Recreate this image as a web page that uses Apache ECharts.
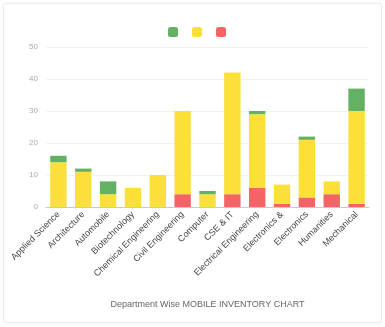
<!DOCTYPE html>
<html>
<head>
<meta charset="utf-8">
<script src="https://cdn.jsdelivr.net/npm/echarts@6/dist/echarts.min.js"></script>
<style>
    html, body { margin: 0; padding: 0; background: #fff; }
    #wrap {
        position: absolute; left: 3px; top: 3px; width: 377px; height: 318px;
        border: 1px solid #ececec; border-radius: 3px;
        box-shadow: 0 0 3px rgba(0,0,0,0.06);
    }
    #chart { position: absolute; left: 0; top: 0; width: 385px; height: 327px; }
</style>
</head>
<body>
<div id="wrap"></div>
<div id="chart"></div>
<script>
// departments on the x axis
const departments = ['Applied Science', 'Architecture', 'Automobile', 'Biotechnology', 'Chemical Engineering',
    'Civil Engineering', 'Computer', 'CSE & IT', 'Electrical Engineering', 'Electronics &',
    'Electronics', 'Humanities', 'Mechanical'];

// stacked values, bottom to top
const redValues = [0, 0, 0, 0, 0, 4, 0, 4, 6, 1, 3, 4, 1];
const yellowValues = [14, 11, 4, 6, 10, 26, 4, 38, 23, 6, 18, 4, 29];
const greenValues = [2, 1, 4, 0, 0, 0, 1, 0, 1, 0, 1, 0, 7];

const yTicks = [0, 10, 20, 30, 40, 50];
const axisTitle = 'Department Wise MOBILE INVENTORY CHART';

const chart = echarts.init(document.getElementById('chart'));

function stackSeries(name, data, color) {
    return {
        name: name,
        type: 'bar',
        stack: 'total',
        barWidth: '66%',
        data: data,
        itemStyle: { color: color }
    };
}

chart.setOption({
    animation: false,
    legend: {
        data: ['green', 'yellow', 'red'],
        top: 22,
        left: 163,
        itemWidth: 10,
        itemHeight: 10,
        itemGap: 14,
        formatter: () => '',
        icon: 'roundRect'
    },
    grid: { left: 46, right: 16, top: 47, bottom: 120 },
    xAxis: {
        type: 'category',
        data: departments,
        name: axisTitle,
        nameLocation: 'middle',
        nameGap: 93,
        nameTextStyle: { color: '#666', fontSize: 9 },
        axisTick: { show: false },
        axisLine: { lineStyle: { color: '#c8c8dc' } },
        axisLabel: { rotate: 45, interval: 0, fontSize: 9, color: '#444', margin: 6 }
    },
    yAxis: {
        type: 'value',
        min: yTicks[0],
        max: yTicks[yTicks.length - 1],
        interval: 10,
        axisLabel: { fontSize: 8, color: '#aaa', margin: 8 },
        splitLine: { lineStyle: { color: '#f2f2f2' } }
    },
    series: [
        stackSeries('red', redValues, '#f46464'),
        stackSeries('yellow', yellowValues, '#fbe03a'),
        stackSeries('green', greenValues, '#63b163')
    ]
});
</script>
</body>
</html>
